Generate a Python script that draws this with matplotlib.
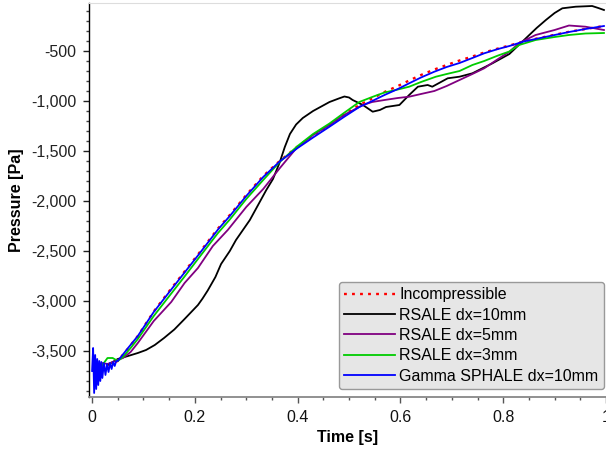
import matplotlib
matplotlib.use("Agg")
import matplotlib.pyplot as plt
from matplotlib.ticker import MultipleLocator, FuncFormatter

plt.rcParams['font.family'] = ['Liberation Sans', 'DejaVu Sans']

# ---- data ----
t_inc = [0.0, 0.03, 0.05, 0.07, 0.089, 0.12, 0.148, 0.18, 0.206, 0.245, 0.268, 0.30, 0.333,
         0.365, 0.40, 0.43, 0.462, 0.49, 0.52, 0.545, 0.569, 0.595, 0.617, 0.64, 0.666,
         0.69, 0.715, 0.74, 0.763, 0.79, 0.812, 0.84, 0.863, 0.90, 0.928, 0.96, 0.996]
p_inc = [-3660, -3640, -3600, -3475, -3350, -3105, -2915, -2705, -2535, -2275, -2140, -1940, -1750,
         -1600, -1455, -1345, -1240, -1140, -1040, -975, -910, -850, -795, -740, -685,
         -640, -595, -555, -515, -475, -445, -405, -378, -338, -308, -280, -250]

t_r10 = [0.03, 0.05, 0.07, 0.089, 0.105, 0.122, 0.14, 0.16, 0.18, 0.206, 0.215, 0.225, 0.24,
         0.251, 0.268, 0.28, 0.307, 0.339, 0.352, 0.365, 0.375, 0.385, 0.397, 0.41, 0.43,
         0.462, 0.48, 0.491, 0.50, 0.507, 0.527, 0.546, 0.56, 0.572, 0.598, 0.617, 0.634,
         0.653, 0.662, 0.692, 0.715, 0.74, 0.779, 0.812, 0.844, 0.865, 0.883, 0.90, 0.915,
         0.941, 0.973, 0.985, 0.996]
p_r10 = [-3640, -3580, -3550, -3520, -3490, -3440, -3370, -3285, -3180, -3040, -2975, -2895, -2760,
         -2630, -2500, -2390, -2190, -1890, -1780, -1615, -1460, -1330, -1235, -1170, -1100,
         -1010, -975, -955, -965, -990, -1040, -1107, -1090, -1060, -1040, -940, -857,
         -840, -857, -773, -757, -723, -623, -530, -373, -270, -190, -120, -73,
         -57, -50, -70, -90]

t_r5 = [0.01, 0.02, 0.03, 0.045, 0.06, 0.075, 0.089, 0.12, 0.154, 0.18, 0.206, 0.235, 0.264,
        0.30, 0.333, 0.365, 0.397, 0.43, 0.462, 0.49, 0.527, 0.545, 0.569, 0.595, 0.617,
        0.64, 0.666, 0.69, 0.715, 0.74, 0.763, 0.79, 0.812, 0.831, 0.863, 0.90, 0.928,
        0.96, 0.996]
p_r5 = [-3640, -3620, -3630, -3600, -3570, -3510, -3420, -3200, -3010, -2820, -2670, -2450, -2290,
        -2060, -1880, -1673, -1475, -1340, -1240, -1140, -1040, -1010, -990, -970, -957,
        -930, -900, -850, -790, -730, -673, -580, -507, -420, -340, -290, -245,
        -257, -290]

t_r3 = [0.02, 0.03, 0.04, 0.05, 0.06, 0.075, 0.089, 0.12, 0.148, 0.18, 0.206, 0.245, 0.268,
        0.30, 0.333, 0.365, 0.40, 0.43, 0.462, 0.49, 0.52, 0.545, 0.569, 0.595, 0.617,
        0.64, 0.669, 0.69, 0.715, 0.74, 0.763, 0.79, 0.812, 0.831, 0.863, 0.90, 0.928,
        0.96, 0.996]
p_r3 = [-3640, -3570, -3570, -3600, -3560, -3470, -3380, -3150, -2965, -2755, -2580, -2320, -2185,
        -1980, -1790, -1610, -1450, -1330, -1225, -1120, -1010, -960, -915, -885, -857,
        -810, -757, -730, -700, -640, -600, -545, -505, -440, -390, -360, -340,
        -325, -320]

t_sph = [0.0, 0.002, 0.004, 0.006, 0.008, 0.010, 0.012, 0.014, 0.016, 0.018, 0.020, 0.023,
         0.026, 0.029, 0.032, 0.035, 0.038, 0.041, 0.044, 0.047, 0.05, 0.07, 0.089, 0.12,
         0.148, 0.18, 0.206, 0.245, 0.268, 0.30, 0.333, 0.365, 0.40, 0.43, 0.462, 0.49,
         0.52, 0.545, 0.569, 0.595, 0.617, 0.64, 0.666, 0.69, 0.715, 0.74, 0.763, 0.79,
         0.812, 0.84, 0.863, 0.90, 0.928, 0.96, 0.996]
p_sph = [-3700, -3470, -3920, -3540, -3880, -3580, -3840, -3600, -3800, -3610, -3770, -3620,
         -3740, -3630, -3710, -3620, -3680, -3610, -3650, -3600, -3600, -3470, -3350, -3110,
         -2925, -2715, -2545, -2285, -2150, -1950, -1760, -1605, -1470, -1365, -1257, -1160,
         -1060, -1000, -940, -880, -823, -765, -707, -660, -620, -570, -523, -480,
         -450, -405, -380, -340, -310, -280, -250]

labels = ["Incompressible", "RSALE dx=10mm", "RSALE dx=5mm", "RSALE dx=3mm",
          "Gamma SPHALE dx=10mm"]
colors = ["#ff0000", "#000000", "#800080", "#00cc00", "#0000ff"]

fig = plt.figure(figsize=(6.06, 4.5), dpi=100)
ax = fig.add_axes([89/606, 1-397/450, (606-89)/606, (397-3)/450])

ax.plot(t_inc, p_inc, color=colors[0], lw=1.7, linestyle=(0, (1.2, 2.2)), label=labels[0])
ax.plot(t_r10, p_r10, color=colors[1], lw=1.3, label=labels[1])
ax.plot(t_r5, p_r5, color=colors[2], lw=1.3, label=labels[2])
ax.plot(t_r3, p_r3, color=colors[3], lw=1.3, label=labels[3])
ax.plot(t_sph, p_sph, color=colors[4], lw=1.3, label=labels[4])

ax.set_xlim(-0.006, 1.0)
ax.set_ylim(-3960, -20)

ax.xaxis.set_major_locator(MultipleLocator(0.2))
ax.xaxis.set_minor_locator(MultipleLocator(0.05))
ax.yaxis.set_major_locator(MultipleLocator(500))
ax.yaxis.set_minor_locator(MultipleLocator(100))

def xfmt(v, pos):
    if abs(v) < 1e-9:
        return "0"
    if abs(v - 1) < 1e-9:
        return "1"
    return f"{v:.1f}"
ax.xaxis.set_major_formatter(FuncFormatter(xfmt))
ax.yaxis.set_major_formatter(FuncFormatter(lambda v, p: f"{int(round(v)):,}"))

ax.tick_params(axis='both', which='major', labelsize=11.5, length=4, width=1, pad=5,
               colors='#222222')
ax.tick_params(axis='both', which='minor', length=2.5, width=1, colors='#444444')
ax.tick_params(axis='x', which='both', colors='#555555', labelcolor='#111111')

ax.spines['right'].set_visible(False)
ax.spines['top'].set_color('#dddddd')
ax.spines['top'].set_linewidth(0.8)
ax.spines['left'].set_color('#000000')
ax.spines['left'].set_linewidth(1.0)
ax.spines['bottom'].set_color('#888888')
ax.spines['bottom'].set_linewidth(1.3)

ax.set_xlabel("Time [s]", fontsize=11.5, fontweight='bold', labelpad=4)
ax.set_ylabel("Pressure [Pa]", fontsize=11.5, fontweight='bold', labelpad=5)

leg = ax.legend(loc='lower right', bbox_to_anchor=(0.996, 0.02), borderaxespad=0,
                fontsize=11.5, handlelength=3.2, handletextpad=0.25, labelspacing=0.33,
                borderpad=0.35, fancybox=True, framealpha=1)
leg.get_frame().set_facecolor('#e6e6e6')
leg.get_frame().set_edgecolor('#999999')

fig.savefig("out.png", dpi=100)
